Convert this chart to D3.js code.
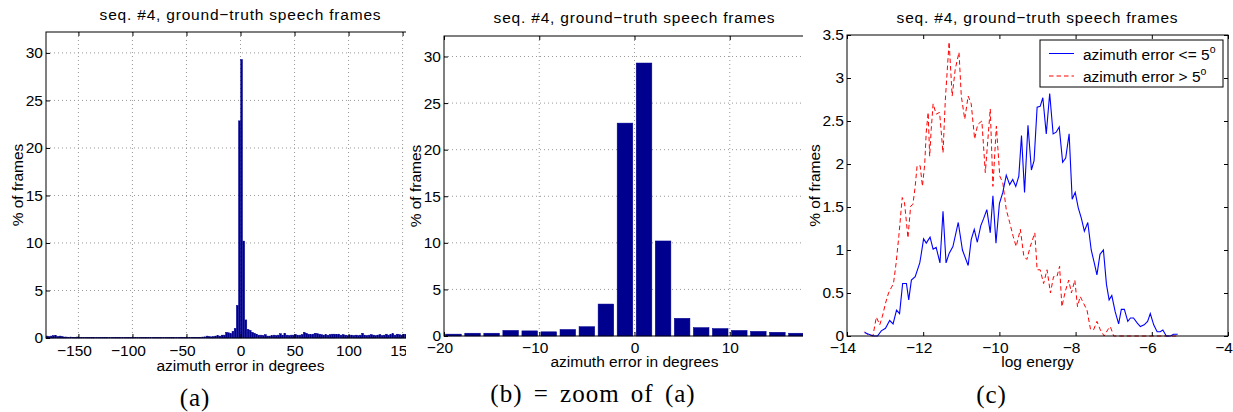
<!DOCTYPE html>
<html>
<head>
<meta charset="utf-8">
<script src="https://cdn.jsdelivr.net/npm/d3@7"></script>
<style>
  body { margin: 0; background: #fff; }
  text { font-family: "Liberation Sans", Arial, sans-serif; fill: #000; }
  .cap { font-family: "Liberation Serif", "Times New Roman", serif; }
</style>
</head>
<body>
<div id="G"></div>
<script>
// values
var titleText = "seq. #4, ground\u2212truth speech frames";

// azimuth error histogram, 2 degree bins, % of frames
var binCenters = d3.range(-179, 180, 2);
var binPercent = [
  0.2, 0.15, 0.2, 0.25, 0.25, 0.15, 0.2, 0.15, 0.1, 0.1,        // -179 .. -161
  0.08, 0.1, 0.08, 0.06, 0.1, 0.08, 0.06, 0.07, 0.05, 0.06,     // -159 .. -141
  0.05, 0.07, 0.05, 0.06, 0.05, 0.04, 0.06, 0.08, 0.05, 0.04,   // -139 .. -121
  0.05, 0.04, 0.06, 0.05, 0.04, 0.05, 0.03, 0.04, 0.05, 0.04,   // -119 .. -101
  0.05, 0.04, 0.06, 0.05, 0.04, 0.05, 0.06, 0.05, 0.04, 0.05,   // -99 .. -81
  0.06, 0.05, 0.04, 0.05, 0.06, 0.05, 0.04, 0.05, 0.06, 0.05,   // -79 .. -61
  0.04, 0.06, 0.08, 0.05, 0.06, 0.05, 0.06, 0.07, 0.08, 0.07,   // -59 .. -41
  0.06, 0.08, 0.1, 0.12, 0.2, 0.15, 0.12, 0.15, 0.2, 0.25,      // -39 .. -21
  0.2, 0.3, 0.3, 0.6, 0.55, 0.45, 0.7, 1.0, 3.43, 22.85,        // -19 .. -1
  29.3, 10.2, 1.9, 0.9, 0.8, 0.6, 0.5, 0.4, 0.3, 0.3,           // 1 .. 19
  0.25, 0.35, 0.2, 0.2, 0.25, 0.3, 0.25, 0.3, 0.45, 0.3,        // 21 .. 39
  0.5, 0.3, 0.25, 0.3, 0.3, 0.35, 0.3, 0.3, 0.35, 0.6,          // 41 .. 59
  0.5, 0.4, 0.35, 0.4, 0.5, 0.45, 0.4, 0.35, 0.3, 0.35,         // 61 .. 79
  0.3, 0.35, 0.4, 0.4, 0.35, 0.4, 0.3, 0.35, 0.3, 0.25,         // 81 .. 99
  0.3, 0.3, 0.25, 0.3, 0.25, 0.3, 0.5, 0.3, 0.25, 0.3,          // 101 .. 119
  0.35, 0.3, 0.25, 0.3, 0.35, 0.25, 0.3, 0.4, 0.3, 0.35,        // 121 .. 139
  0.45, 0.3, 0.4, 0.35, 0.3, 0.4, 0.35, 0.3, 0.35, 0.3,         // 141 .. 159
  0.3, 0.3, 0.3, 0.3, 0.3, 0.3, 0.3, 0.3, 0.3, 0.3              // 161 .. 179
];

// log energy, azimuth error <= 5 deg
var goodEnergy = [-13.54,-13.43,-13.30,-13.20,-13.10,-12.99,-12.88,-12.79,-12.70,-12.62,-12.54,-12.44,-12.38,-12.31,-12.21,-12.09,-12.06,-11.99,-11.92,-11.82,-11.74,-11.66,-11.56,-11.48,-11.40,-11.32,-11.22,-11.08,-10.97,-10.82,-10.74,-10.66,-10.58,-10.49,-10.41,-10.33,-10.24,-10.17,-10.09,-10.00,-9.91,-9.82,-9.73,-9.65,-9.57,-9.49,-9.42,-9.34,-9.25,-9.16,-9.09,-9.01,-8.93,-8.86,-8.77,-8.68,-8.59,-8.51,-8.43,-8.34,-8.26,-8.17,-8.09,-8.01,-7.93,-7.85,-7.77,-7.68,-7.59,-7.51,-7.44,-7.36,-7.27,-7.19,-7.12,-7.05,-6.96,-6.87,-6.80,-6.72,-6.63,-6.56,-6.48,-6.38,-6.30,-6.20,-6.11,-6.04,-5.95,-5.86,-5.78,-5.71,-5.62,-5.51,-5.43,-5.32];
var goodPercent = [0.04,0.02,0,0,0.06,0.09,0.18,0.14,0.30,0.26,0.61,0.61,0.42,0.65,0.69,0.85,0.93,1.13,1.08,1.15,1.01,1.03,0.85,1.45,0.85,0.96,1.04,1.32,1.00,0.82,1.12,1.24,1.09,1.28,1.37,1.47,1.20,1.63,1.08,1.54,1.67,1.87,1.76,1.82,1.74,1.86,2.33,1.67,2.45,1.93,2.04,2.66,2.67,2.77,2.35,2.82,2.35,2.37,2.43,2.02,2.07,2.35,1.59,1.67,1.49,1.37,1.22,1.32,1.00,0.85,0.71,0.95,1.00,0.60,0.42,0.47,0.28,0.14,0.31,0.31,0.17,0.21,0.21,0.15,0.11,0.13,0.17,0.26,0.13,0.05,0.05,0.07,0,0,0.02,0.02];

// log energy, azimuth error > 5 deg
var badEnergy = [-13.54,-13.45,-13.32,-13.23,-13.14,-13.07,-12.99,-12.91,-12.84,-12.78,-12.71,-12.64,-12.55,-12.49,-12.40,-12.33,-12.27,-12.21,-12.16,-12.08,-12.02,-11.96,-11.92,-11.87,-11.83,-11.79,-11.74,-11.66,-11.57,-11.48,-11.42,-11.32,-11.24,-11.16,-11.06,-11.00,-10.91,-10.82,-10.74,-10.65,-10.57,-10.46,-10.37,-10.24,-10.17,-10.08,-9.99,-9.91,-9.82,-9.73,-9.64,-9.56,-9.45,-9.36,-9.28,-9.19,-9.07,-9.01,-8.93,-8.84,-8.75,-8.66,-8.58,-8.49,-8.42,-8.36,-8.27,-8.18,-8.11,-8.02,-7.95,-7.88,-7.79,-7.70,-7.61,-7.53,-7.44,-7.35,-7.25,-7.16,-7.09,-7.00,-5.32];
var badPercent = [0.05,0.01,0,0.22,0.13,0.23,0.38,0.50,0.56,0.61,0.85,1.16,1.61,1.55,1.14,1.51,1.53,1.74,1.98,1.98,1.74,2.00,2.37,2.60,2.09,2.40,2.70,2.58,2.60,2.13,2.74,3.42,2.79,3.10,3.30,2.79,2.52,2.79,2.70,2.29,2.46,2.50,1.90,2.64,1.74,2.44,1.86,1.78,1.47,1.32,1.16,1.04,1.24,0.93,0.89,1.04,1.20,0.77,0.77,0.61,0.77,0.50,0.69,0.69,0.81,0.34,0.52,0.65,0.50,0.65,0.34,0.46,0.38,0.30,0.08,0.07,0.17,0.07,0,0.07,0.11,0,0];

var ticksA = [-150, -100, -50, 0, 50, 100, 150];
var ticksB = [-20, -10, 0, 10, 20];
var ticksPct = [0, 5, 10, 15, 20, 25, 30];
var ticksEnergy = [-14, -12, -10, -8, -6, -4];
var ticksEnergyPct = [0, 0.5, 1, 1.5, 2, 2.5, 3, 3.5];
var legendLabels = ["azimuth error <= 5", "azimuth error > 5"];
var captions = ["(a)", "(b) = zoom of (a)", "(c)"];

var barColor = "#00008f";
var fs = 15.5;

var root = d3.select("#G")
  .append("svg")
  .attr("width", 1233)
  .attr("height", 412);

// inward ticks on all four sides + box
function Frame(svg, x, y, B, xt, yt, xFmt, yFmt, pad) {
  var bottomAxis = svg.append("g")
    .attr("transform", "translate(0," + B.bottom + ")")
    .call(d3.axisBottom(x).tickValues(xt).tickSizeInner(-4).tickSizeOuter(0).tickPadding(pad).tickFormat(xFmt));
  bottomAxis.selectAll("text").attr("dx", d => d < 0 ? -4.5 : 0);
  svg.append("g")
    .attr("transform", "translate(0," + B.top + ")")
    .call(d3.axisTop(x).tickValues(xt).tickSizeInner(-4).tickSizeOuter(0).tickFormat(""));
  svg.append("g")
    .attr("transform", "translate(" + B.left + ",0)")
    .call(d3.axisLeft(y).tickValues(yt).tickSizeInner(-4).tickSizeOuter(0).tickPadding(3).tickFormat(yFmt));
  svg.append("g")
    .attr("transform", "translate(" + B.right + ",0)")
    .call(d3.axisRight(y).tickValues(yt).tickSizeInner(-4).tickSizeOuter(0).tickFormat(""));
  svg.selectAll(".domain").remove();
  svg.selectAll(".tick text").attr("font-size", fs).attr("font-family", null);
  svg.selectAll(".tick line").attr("stroke", "#000");

  svg.append("rect")
    .attr("x", B.left).attr("y", B.top)
    .attr("width", B.right - B.left).attr("height", B.bottom - B.top)
    .attr("fill", "none").attr("stroke", "#000").attr("stroke-width", 1);
}

function Labels(svg, B, xl, yl, ylX, titleY, xlY) {
  var cx = (B.left + B.right) / 2;
  svg.append("text").attr("x", cx).attr("y", titleY)
    .attr("text-anchor", "middle").attr("font-size", 15.5)
    .attr("letter-spacing", 0.8).text(titleText);
  svg.append("text").attr("x", cx).attr("y", xlY)
    .attr("text-anchor", "middle").attr("font-size", fs).text(xl);
  svg.append("text")
    .attr("transform", "translate(" + ylX + "," + (B.top + B.bottom) / 2 + ") rotate(-90)")
    .attr("text-anchor", "middle").attr("font-size", fs).text(yl);
}

function Histogram(B, xDomain, xt, clipW, pad, titleY, xlY, ylX) {
  // nested svg clips the right part, like the cropped original
  var svg = root.append("svg").attr("width", clipW).attr("height", 412);

  var x = d3.scaleLinear().domain(xDomain).range([B.left, B.right]);
  var y = d3.scaleLinear().domain([0, 32.2]).range([B.bottom, B.top]);

  // dotted grid
  svg.append("g").selectAll("line")
    .data(xt.filter(d => d > xDomain[0] && d < xDomain[1]))
    .join("line")
    .attr("x1", d => x(d)).attr("x2", d => x(d))
    .attr("y1", B.top).attr("y2", B.bottom)
    .attr("stroke", "#999").attr("stroke-dasharray", "1,3");
  svg.append("g").selectAll("line")
    .data(ticksPct.filter(d => d > 0))
    .join("line")
    .attr("x1", B.left).attr("x2", B.right)
    .attr("y1", d => y(d)).attr("y2", d => y(d))
    .attr("stroke", "#999").attr("stroke-dasharray", "1,3");

  var bins = d3.zip(binCenters, binPercent)
    .filter(d => d[0] + 1 > xDomain[0] && d[0] - 1 < xDomain[1]);
  svg.append("g").selectAll("rect")
    .data(bins)
    .join("rect")
    .attr("x", d => x(d[0] - 0.82))
    .attr("width", d => x(d[0] + 0.82) - x(d[0] - 0.82))
    .attr("y", d => y(d[1]))
    .attr("height", d => y(0) - y(d[1]))
    .attr("fill", barColor)
    .attr("stroke", barColor)
    .attr("stroke-width", 0.5);

  Frame(svg, x, y, B, xt, ticksPct, d3.format("d"), d3.format("d"), pad);
  Labels(svg, B, "azimuth error in degrees", "% of frames", ylX, titleY, xlY);
}

// (a) full range, (b) zoom
Histogram({ left: 46, right: 435, top: 32, bottom: 338 }, [-180, 180], ticksA, 406, 7, 19.5, 371, 23);
Histogram({ left: 444, right: 825, top: 36, bottom: 336 }, [-20, 20], ticksB, 803, 5.7, 23, 367, 421);

// (c) log energy distributions
var BC = { left: 847, right: 1228, top: 35, bottom: 336 };
var xc = d3.scaleLinear().domain([-14, -4]).range([BC.left, BC.right]);
var yc = d3.scaleLinear().domain([0, 3.5]).range([BC.bottom, BC.top]);
var pc = root.append("g");

var line = d3.line()
  .x(d => xc(d[0]))
  .y(d => yc(d[1]));

pc.append("path")
  .datum(d3.zip(badEnergy, badPercent))
  .attr("fill", "none")
  .attr("stroke", "#ff0000")
  .attr("stroke-width", 1)
  .attr("stroke-dasharray", "4.5,3")
  .attr("d", line);

pc.append("path")
  .datum(d3.zip(goodEnergy, goodPercent))
  .attr("fill", "none")
  .attr("stroke", "#0000ff")
  .attr("stroke-width", 1.1)
  .attr("d", line);

Frame(pc, xc, yc, BC, ticksEnergy, ticksEnergyPct, d3.format("d"), d3.format(""), 5.7);
Labels(pc, BC, "log energy", "% of frames", 820, 23, 367);

// legend
var lg = pc.append("g");
lg.append("rect")
  .attr("x", 1040).attr("y", 40).attr("width", 183).attr("height", 47)
  .attr("fill", "#fff").attr("stroke", "#000");
var legendStyle = [
  { color: "#0000ff", dash: null, y: 53.5 },
  { color: "#ff0000", dash: "4.5,3", y: 76 }
];
legendStyle.forEach(function (s, i) {
  lg.append("line")
    .attr("x1", 1049).attr("x2", 1074)
    .attr("y1", s.y).attr("y2", s.y)
    .attr("stroke", s.color)
    .attr("stroke-dasharray", s.dash);
  var t = lg.append("text")
    .attr("x", 1083).attr("y", s.y + 6)
    .attr("font-size", fs)
    .text(legendLabels[i]);
  t.append("tspan").attr("dy", -7).attr("font-size", 10.5).text("o");
});

// captions under each panel
var capPos = [[195, 406], [593, 402], [991.5, 403]];
root.selectAll("text.cap")
  .data(captions)
  .join("text")
  .attr("class", "cap")
  .attr("x", (d, i) => capPos[i][0])
  .attr("y", (d, i) => capPos[i][1])
  .attr("text-anchor", "middle")
  .attr("font-size", 25)
  .attr("letter-spacing", 1)
  .attr("word-spacing", 4)
  .text(d => d);
</script>
</body>
</html>
